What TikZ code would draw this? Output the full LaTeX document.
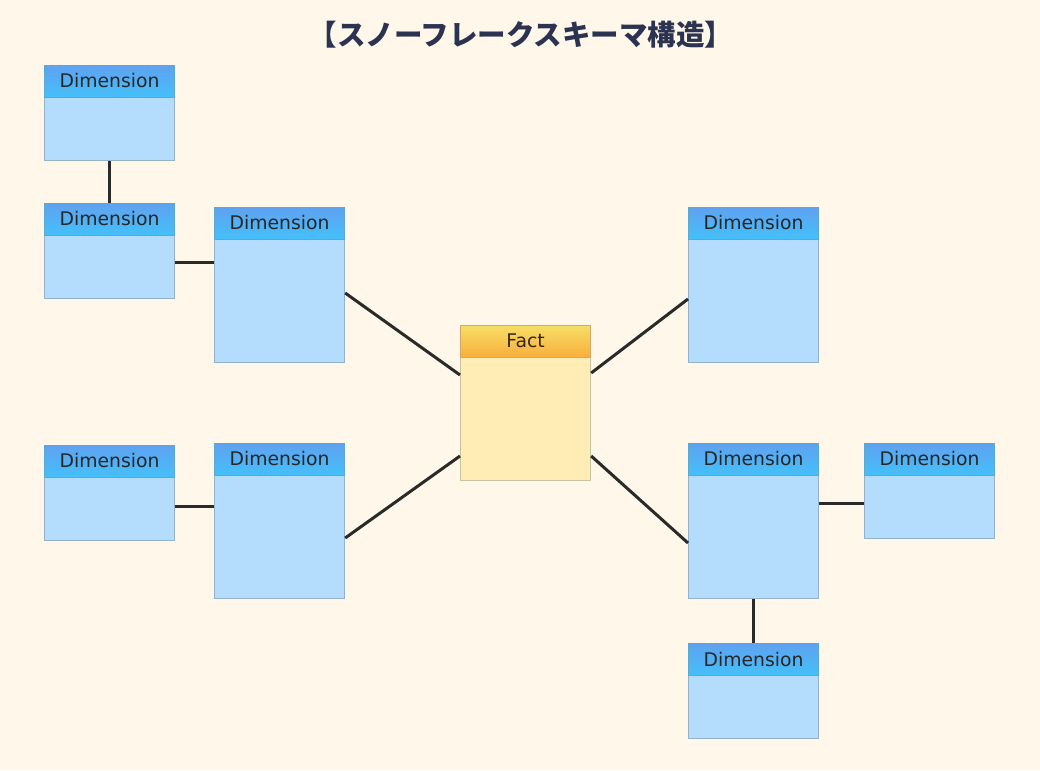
\documentclass[tikz,border=0pt]{standalone}
\usepackage{fontspec}
\setmainfont{DejaVu Sans}
\newfontfamily\cjk{Noto Sans CJK JP}
\definecolor{bg}{HTML}{FFF8EA}
\definecolor{dimbody}{HTML}{B3DCFD}
\definecolor{dimborder}{HTML}{94B2CA}
\definecolor{dimtop}{HTML}{5FA2F0}
\definecolor{dimbot}{HTML}{44C0FA}
\definecolor{dimedge}{HTML}{5AAAD0}
\definecolor{factbody}{HTML}{FFEDB5}
\definecolor{factborder}{HTML}{C8C4A0}
\definecolor{facttop}{HTML}{F6DE64}
\definecolor{factbot}{HTML}{F8AE3C}
\definecolor{factedge}{HTML}{D4A868}
\definecolor{titlec}{HTML}{2B3350}
\definecolor{linkc}{HTML}{2A2A2A}
\tikzset{
  dimbox/.style={draw=dimborder, line width=1.2pt, fill=dimbody, minimum width=130pt, anchor=north west, inner sep=0pt},
  dimhead/.style={draw=dimedge, line width=1.2pt, top color=dimtop, bottom color=dimbot, minimum width=130pt, minimum height=32pt, anchor=north west, inner sep=0pt, font=\fontsize{18.8}{19}\selectfont, text=black!85},
  factbox/.style={draw=factborder, line width=1.2pt, fill=factbody, minimum width=130pt, anchor=north west, inner sep=0pt},
  facthead/.style={draw=factedge, line width=1.2pt, top color=facttop, bottom color=factbot, minimum width=130pt, minimum height=32pt, anchor=north west, inner sep=0pt, font=\fontsize{18.8}{19}\selectfont, text=black!70!brown},
  link/.style={draw=linkc, line width=3pt}
}
\newcommand{\mydim}[4]{%
  \node[dimbox, minimum height=#4pt] (#1) at (#2,#3) {};
  \node[dimhead] (#1h) at (#2,#3) {\raisebox{1.5pt}{Dimension}};
}
\begin{document}
\begin{tikzpicture}[x=1pt,y=-1pt]
\fill[bg] (0,0) rectangle (1040,770);
\useasboundingbox (0,0) rectangle (1040,770);
\node[font=\cjk\bfseries\fontsize{28.5}{30}\selectfont, text=titlec] (title) at (521,35) {【スノーフレークスキーマ構造】};
\mydim{d1}{44}{65}{95}
\mydim{d2}{44}{203}{95}
\mydim{d3}{214}{207}{155}
\mydim{d4}{44}{445}{95}
\mydim{d5}{214}{443}{155}
\mydim{d6}{688}{207}{155}
\mydim{d7}{688}{443}{155}
\mydim{d8}{864}{443}{95}
\mydim{d9}{688}{643}{95}
\node[factbox, minimum height=155pt] (fact) at (460,325) {};
\node[facthead] (facth) at (460,325) {\raisebox{1.5pt}{Fact}};
% connectors
\draw[link] (d1.south) -- (d2h.north);
\draw[link] (d2.east |- 0,262) -- (d3.west |- 0,262);
\draw[link] (d4.east |- 0,506) -- (d5.west |- 0,506);
\draw[link] (d3.east |- 0,293) -- (fact.west |- 0,375);
\draw[link] (d5.east |- 0,538) -- (fact.west |- 0,456);
\draw[link] (fact.east |- 0,373) -- (d6.west |- 0,299);
\draw[link] (fact.east |- 0,456) -- (d7.west |- 0,543);
\draw[link] (d7.east |- 0,503) -- (d8.west |- 0,503);
\draw[link] (d7.south) -- (d9h.north);
\end{tikzpicture}
\end{document}
